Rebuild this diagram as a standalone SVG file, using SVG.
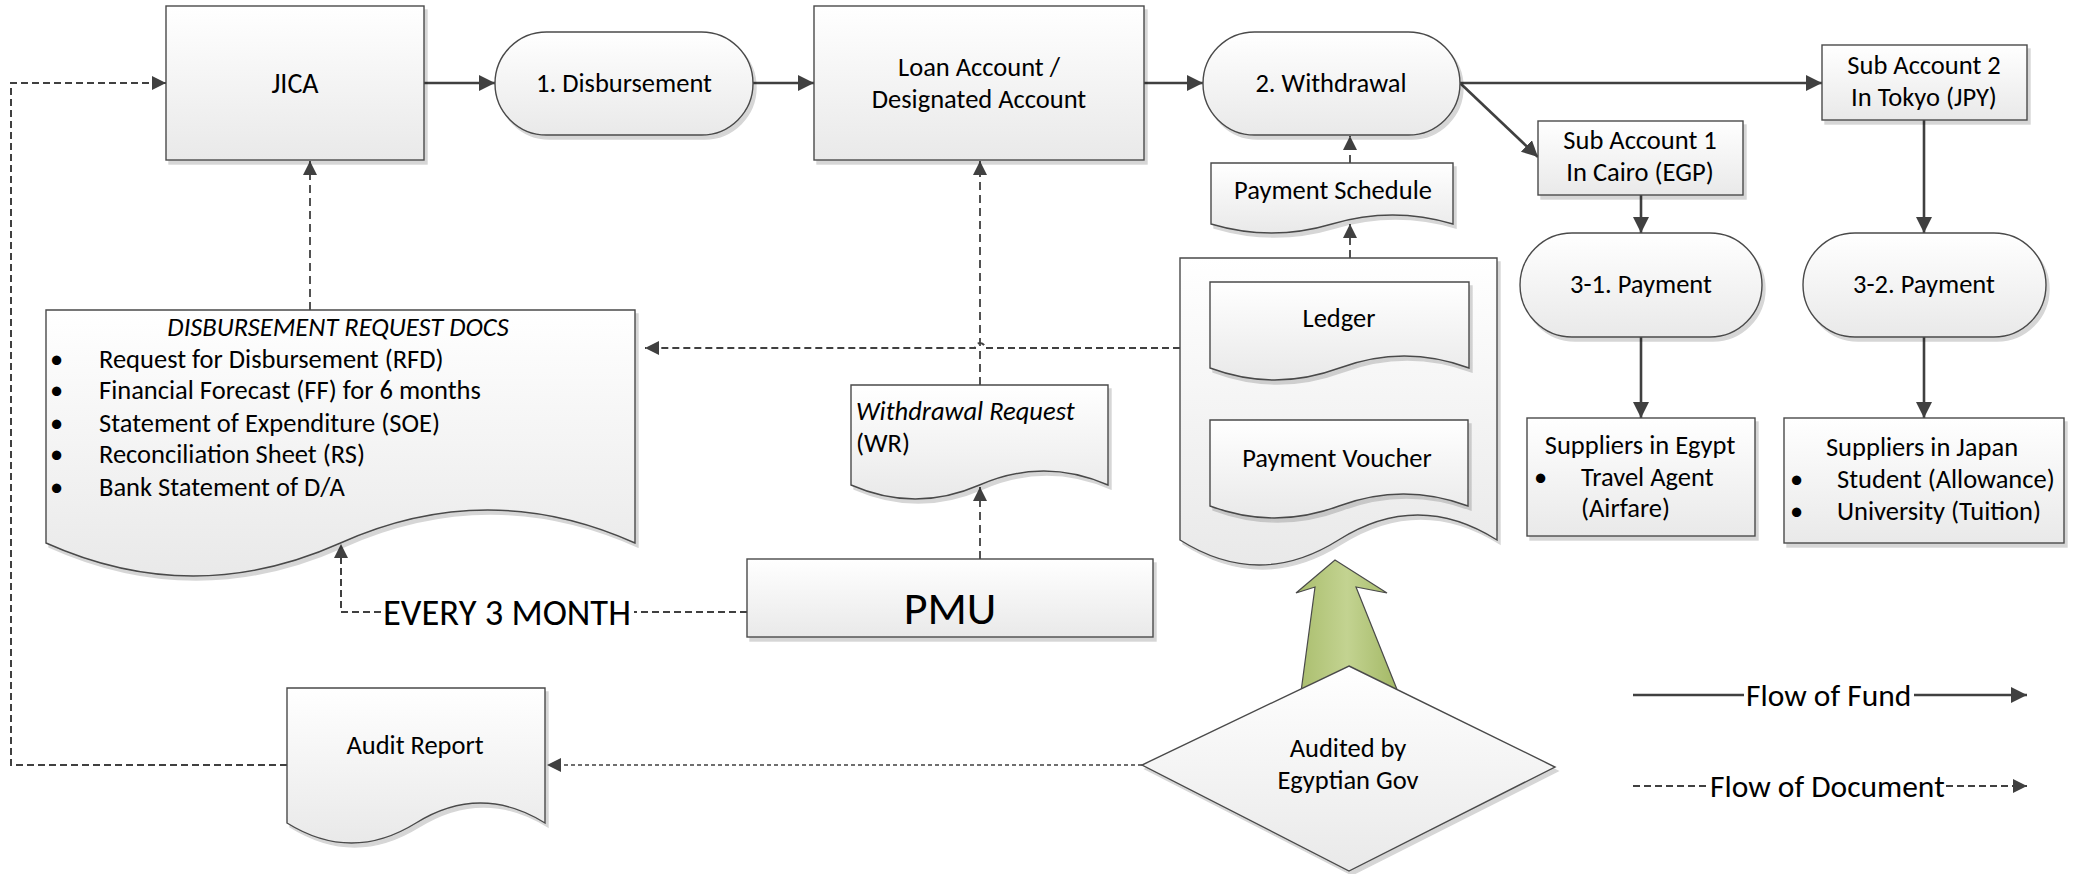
<svg xmlns="http://www.w3.org/2000/svg" width="2073" height="874" viewBox="0 0 2073 874">
  <style>
    .shape { fill: url(#fillGrad); stroke: #4a4a4a; stroke-width: 1.4; filter: url(#shadow); }
    .txt { font-family: Carlito, "Liberation Sans Narrow", "Liberation Sans", sans-serif; font-size: 26.5px; fill: #000; }
    .mid { text-anchor: middle; }
    .ital { font-style: italic; }
    .fund { fill: none; stroke: #404040; stroke-width: 2.6; }
    .doc { fill: none; stroke: #404040; stroke-width: 2; stroke-dasharray: 7 4; }
    .docthin { fill: none; stroke: #404040; stroke-width: 1.8; stroke-dasharray: 8 5; }
    .dotted { fill: none; stroke: #404040; stroke-width: 1.5; stroke-dasharray: 4 3; }
  </style>
  <defs>
    <linearGradient id="fillGrad" x1="0" y1="0" x2="0" y2="1">
      <stop offset="0" stop-color="#ffffff"/>
      <stop offset="1" stop-color="#e9e9e9"/>
    </linearGradient>
    <linearGradient id="greenGrad" x1="0" y1="0" x2="1" y2="0">
      <stop offset="0" stop-color="#a9bd6c"/>
      <stop offset="0.5" stop-color="#c3d391"/>
      <stop offset="1" stop-color="#a3b865"/>
    </linearGradient>
    <filter id="shadow" x="-5%" y="-5%" width="115%" height="120%">
      <feOffset in="SourceAlpha" dx="3" dy="4" result="off"/>
      <feFlood flood-color="#000" flood-opacity="0.16"/>
      <feComposite in2="off" operator="in" result="sh"/>
      <feMerge><feMergeNode in="sh"/><feMergeNode in="SourceGraphic"/></feMerge>
    </filter>
    <marker id="arrow" markerUnits="userSpaceOnUse" markerWidth="18" markerHeight="18" refX="16" refY="8" orient="auto">
      <path d="M0,0 L16,8 L0,16 z" fill="#404040"/>
    </marker>
    <marker id="arrowSm" markerUnits="userSpaceOnUse" markerWidth="16" markerHeight="16" refX="14" refY="7" orient="auto">
      <path d="M0,0 L14,7 L0,14 z" fill="#404040"/>
    </marker>
  </defs>

  <rect width="2073" height="874" fill="#ffffff"/>

  <!-- connectors -->
  <g id="connectors">
    <!-- flow of fund -->
    <line class="fund" x1="424" y1="83" x2="495" y2="83" marker-end="url(#arrow)"/>
    <line class="fund" x1="753" y1="83" x2="814" y2="83" marker-end="url(#arrow)"/>
    <line class="fund" x1="1144" y1="83" x2="1203" y2="83" marker-end="url(#arrow)"/>
    <line class="fund" x1="1460" y1="83" x2="1822" y2="83" marker-end="url(#arrow)"/>
    <line class="fund" x1="1460" y1="83" x2="1538" y2="157" marker-end="url(#arrow)"/>
    <line class="fund" x1="1641" y1="195" x2="1641" y2="233" marker-end="url(#arrow)"/>
    <line class="fund" x1="1924" y1="120" x2="1924" y2="233" marker-end="url(#arrow)"/>
    <line class="fund" x1="1641" y1="337" x2="1641" y2="418" marker-end="url(#arrow)"/>
    <line class="fund" x1="1924" y1="337" x2="1924" y2="418" marker-end="url(#arrow)"/>

    <!-- flow of documents -->
    <path class="doc" d="M287,765 H11 V83 H166" marker-end="url(#arrowSm)"/>
    <line class="docthin" x1="310" y1="310" x2="310" y2="161" marker-end="url(#arrowSm)"/>
    <path class="doc" d="M1180,348 H985 A5,5 0 0 0 975,348 H645" marker-end="url(#arrowSm)"/>
    <line class="docthin" x1="980" y1="385" x2="980" y2="161" marker-end="url(#arrowSm)"/>
    <line class="docthin" x1="980" y1="559" x2="980" y2="487" marker-end="url(#arrowSm)"/>
    <line class="doc" x1="747" y1="612" x2="634" y2="612"/>
    <path class="doc" d="M381,612 H341 V544" marker-end="url(#arrowSm)"/>
    <line class="docthin" x1="1350" y1="258" x2="1350" y2="224" marker-end="url(#arrowSm)"/>
    <line class="docthin" x1="1350" y1="163" x2="1350" y2="136" marker-end="url(#arrowSm)"/>
    <line class="dotted" x1="1142" y1="765" x2="547" y2="765" marker-end="url(#arrowSm)"/>
  </g>

  <!-- JICA -->
  <g id="jica">
    <rect class="shape" x="166" y="6" width="258" height="154"/>
    <text class="txt mid" x="295" y="93" style="font-size:28px">JICA</text>
  </g>

  <!-- 1. Disbursement -->
  <g id="disbursement">
    <rect class="shape" x="495" y="32" width="258" height="103" rx="51.5"/>
    <text class="txt mid" x="624" y="92">1. Disbursement</text>
  </g>

  <!-- Loan Account -->
  <g id="loan-account">
    <rect class="shape" x="814" y="6" width="330" height="154"/>
    <text class="txt mid" x="979" y="76">Loan Account /</text>
    <text class="txt mid" x="979" y="108">Designated Account</text>
  </g>

  <!-- 2. Withdrawal -->
  <g id="withdrawal">
    <rect class="shape" x="1203" y="32" width="257" height="103" rx="51.5"/>
    <text class="txt mid" x="1331" y="92">2. Withdrawal</text>
  </g>

  <!-- Sub Account 1 -->
  <g id="sub-account-1">
    <rect class="shape" x="1538" y="121" width="205" height="74"/>
    <text class="txt mid" x="1640" y="149">Sub Account 1</text>
    <text class="txt mid" x="1640" y="181">In Cairo (EGP)</text>
  </g>

  <!-- Sub Account 2 -->
  <g id="sub-account-2">
    <rect class="shape" x="1822" y="45" width="205" height="75"/>
    <text class="txt mid" x="1924" y="74">Sub Account 2</text>
    <text class="txt mid" x="1924" y="106">In Tokyo (JPY)</text>
  </g>

  <!-- 3-1. Payment -->
  <g id="payment-3-1">
    <rect class="shape" x="1520" y="233" width="242" height="104" rx="52"/>
    <text class="txt mid" x="1641" y="293">3-1. Payment</text>
  </g>

  <!-- 3-2. Payment -->
  <g id="payment-3-2">
    <rect class="shape" x="1803" y="233" width="243" height="104" rx="52"/>
    <text class="txt mid" x="1924" y="293">3-2. Payment</text>
  </g>

  <!-- Suppliers in Egypt -->
  <g id="suppliers-egypt">
    <rect class="shape" x="1527" y="418" width="228" height="118"/>
    <text class="txt mid" x="1640" y="454">Suppliers in Egypt</text>
    <text class="txt" x="1534" y="486">•</text>
    <text class="txt" x="1581" y="486">Travel Agent</text>
    <text class="txt" x="1581" y="517">(Airfare)</text>
  </g>

  <!-- Suppliers in Japan -->
  <g id="suppliers-japan">
    <rect class="shape" x="1784" y="418" width="280" height="125"/>
    <text class="txt mid" x="1922" y="456">Suppliers in Japan</text>
    <text class="txt" x="1790" y="488">•</text>
    <text class="txt" x="1837" y="488">Student (Allowance)</text>
    <text class="txt" x="1790" y="520">•</text>
    <text class="txt" x="1837" y="520">University (Tuition)</text>
  </g>

  <!-- Payment Schedule -->
  <g id="payment-schedule">
    <path class="shape" d="M1211,163 H1453 V224 C1412.7,212 1372.3,212 1332,224 C1291.7,236 1251.3,236 1211,224 Z"/>
    <text class="txt mid" x="1333" y="199">Payment Schedule</text>
  </g>

  <!-- Records: Ledger and Payment Voucher -->
  <g id="records">
    <path class="shape" d="M1180,258 H1497 V540 C1444.2,506.7 1391.3,506.7 1338.5,540 C1285.7,573.3 1232.8,573.3 1180,540 Z"/>
    <g id="ledger">
      <path class="shape" d="M1210,282 H1469 V368 C1425.8,352 1382.7,352 1339.5,368 C1296.3,384 1253.2,384 1210,368 Z"/>
      <text class="txt mid" x="1339" y="327">Ledger</text>
    </g>
    <g id="payment-voucher">
      <path class="shape" d="M1210,420 H1468 V506 C1425,490 1382,490 1339,506 C1296,522 1253,522 1210,506 Z"/>
      <text class="txt mid" x="1337" y="467">Payment Voucher</text>
    </g>
  </g>

  <!-- Disbursement request documents -->
  <g id="disbursement-docs">
    <path class="shape" d="M46,310 H635 V543 C536.8,499 438.7,499 340.5,543 C242.3,587 144.2,587 46,543 Z"/>
    <text class="txt mid ital" x="338" y="336">DISBURSEMENT REQUEST DOCS</text>
    <text class="txt" x="50" y="368">•</text>
    <text class="txt" x="99" y="368">Request for Disbursement (RFD)</text>
    <text class="txt" x="50" y="399">•</text>
    <text class="txt" x="99" y="399">Financial Forecast (FF) for 6 months</text>
    <text class="txt" x="50" y="432">•</text>
    <text class="txt" x="99" y="432">Statement of Expenditure (SOE)</text>
    <text class="txt" x="50" y="463">•</text>
    <text class="txt" x="99" y="463">Reconciliation Sheet (RS)</text>
    <text class="txt" x="50" y="496">•</text>
    <text class="txt" x="99" y="496">Bank Statement of D/A</text>
  </g>

  <!-- Withdrawal Request -->
  <g id="withdrawal-request">
    <path class="shape" d="M851,385 H1108 V485 C1065.2,466.3 1022.3,466.3 979.5,485 C936.7,503.7 893.8,503.7 851,485 Z"/>
    <text class="txt ital" x="856" y="420">Withdrawal Request</text>
    <text class="txt" x="856" y="452">(WR)</text>
  </g>

  <!-- PMU -->
  <g id="pmu">
    <rect class="shape" x="747" y="559" width="406" height="78"/>
    <text class="txt mid" x="950" y="624" style="font-size:46px">PMU</text>
  </g>

  <!-- schedule label -->
  <g id="every-3-month">
    <text class="txt" x="383" y="625" style="font-size:36.5px">EVERY 3 MONTH</text>
  </g>

  <!-- Audit Report -->
  <g id="audit-report">
    <path class="shape" d="M287,688 H545 V823 C502,796.3 459,796.3 416,823 C373,849.7 330,849.7 287,823 Z"/>
    <text class="txt mid" x="415" y="754">Audit Report</text>
  </g>

  <!-- Audit arrow (upward block arrow) -->
  <g id="audit-arrow">
    <path d="M1335,560 L1387,593 L1356,587 L1398,692 L1301,692 L1315,587 L1296,593 Z" fill="url(#greenGrad)" stroke="#4a4a4a" stroke-width="1.2"/>
  </g>

  <!-- Audited by Egyptian Gov -->
  <g id="audited-by">
    <path class="shape" d="M1349,666 L1555,767 L1349,871 L1142,765 Z"/>
    <text class="txt mid" x="1348" y="757">Audited by</text>
    <text class="txt mid" x="1348" y="789">Egyptian Gov</text>
  </g>

  <!-- legend -->
  <g id="legend">
    <line class="fund" x1="1633" y1="695" x2="1744" y2="695"/>
    <text class="txt" x="1746" y="706" style="font-size:31.5px">Flow of Fund</text>
    <line class="fund" x1="1914" y1="695" x2="2027" y2="695" marker-end="url(#arrow)"/>
    <line class="doc" x1="1633" y1="786" x2="1709" y2="786"/>
    <text class="txt" x="1710" y="797" style="font-size:31.5px">Flow of Document</text>
    <line class="doc" x1="1946" y1="786" x2="2027" y2="786" marker-end="url(#arrowSm)"/>
  </g>
</svg>
